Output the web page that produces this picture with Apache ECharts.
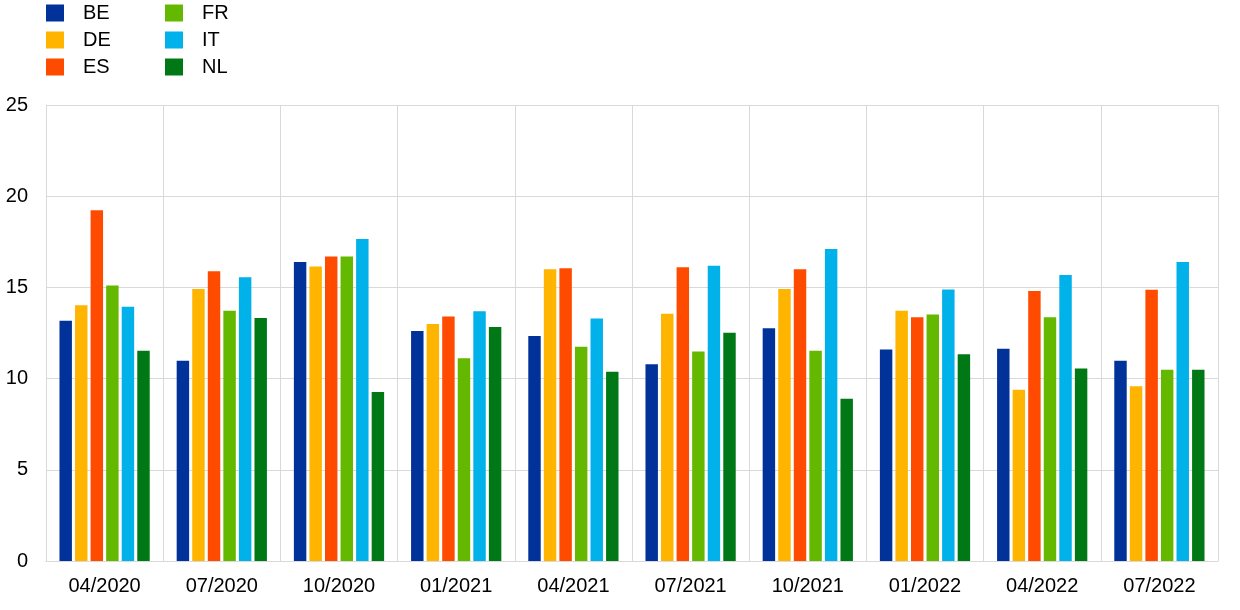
<!DOCTYPE html>
<html><head><meta charset="utf-8">
<script src="https://cdn.jsdelivr.net/npm/echarts@6/dist/echarts.min.js"></script>
<style>html,body{margin:0;padding:0;background:#fff}#c{width:1240px;height:610px}</style>
</head><body><div id="c"></div>
<script>
const categories = ['04/2020','07/2020','10/2020','01/2021','04/2021','07/2021','10/2021','01/2022','04/2022','07/2022'];
const BE = [13.17,10.98,16.39,12.61,12.34,10.78,12.76,11.59,11.64,10.98];
const DE = [14.02,14.91,16.14,12.99,15.99,13.56,14.91,13.72,9.39,9.58];
const ES = [19.23,15.88,16.70,13.41,16.05,16.10,15.99,13.36,14.80,14.87];
const FR = [15.10,13.72,16.70,11.11,11.75,11.48,11.53,13.52,13.36,10.49];
const IT = [13.94,15.55,17.65,13.69,13.30,16.19,17.11,14.89,15.68,16.39];
const NL = [11.53,13.32,9.27,12.83,10.38,12.52,8.90,11.33,10.56,10.49];
const yTicks = {min:0, max:25, interval:5};

const names = ['BE','DE','ES','FR','IT','NL'];
const values = [BE,DE,ES,FR,IT,NL];
const colors = ['#003299','#FFB400','#FF4B00','#65B800','#00B1EA','#007816'];
const font = 'Liberation Sans, Arial, sans-serif';

const chart = echarts.init(document.getElementById('c'), null, {renderer:'canvas'});
const legendBase = {
  orient:'vertical', top:3, padding:0, itemWidth:18, itemHeight:17, itemGap:7,
  icon:'rect', textStyle:{fontFamily:font, fontSize:20, color:'#000', padding:[0,0,0,14]},
  selectedMode:false
};
chart.setOption({
  animation:false,
  color: colors,
  legend:[
    Object.assign({}, legendBase, {left:46, data:names.slice(0,3)}),
    Object.assign({}, legendBase, {left:165, data:names.slice(3)})
  ],
  grid:{left:46, right:22, top:105, bottom:49, containLabel:false},
  xAxis:{
    type:'category', data:categories,
    axisLine:{show:true, lineStyle:{color:'#d9d9d9', width:1}},
    axisTick:{show:false},
    axisLabel:{fontFamily:font, fontSize:20, color:'#000', margin:15},
    splitLine:{show:true, interval:0, lineStyle:{color:'#d9d9d9', width:1}}
  },
  yAxis:{
    type:'value', min:yTicks.min, max:yTicks.max, interval:yTicks.interval,
    axisLine:{show:true, lineStyle:{color:'#d9d9d9', width:1}},
    axisTick:{show:false},
    axisLabel:{fontFamily:font, fontSize:20, color:'#000', margin:18},
    splitLine:{show:true, lineStyle:{color:'#d9d9d9', width:1}}
  },
  series: names.map((n,i)=>({
    name:n, type:'bar', data:values[i],
    barGap:'25%', barCategoryGap:'23%',
    itemStyle:{color:colors[i]}
  }))
});
</script></body></html>
